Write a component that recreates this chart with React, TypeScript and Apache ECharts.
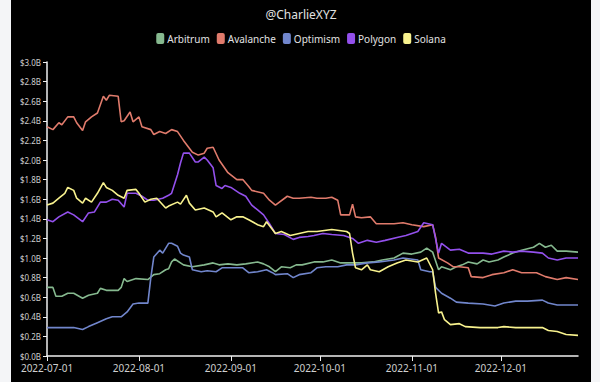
import React, { useEffect, useRef } from "react";
import * as echarts from "echarts";

const seriesNames = ["Arbitrum", "Avalanche", "Optimism", "Polygon", "Solana"];
const lineColors = ["#86b98f", "#e07b6c", "#7186cc", "#9350ec", "#f8f28e"];
const yTicksMax = 3.0;

const arbitrum: [string, number][] = [
  ["2022-07-01", 0.70], ["2022-07-03", 0.70], ["2022-07-04", 0.61], ["2022-07-06", 0.61],
  ["2022-07-08", 0.64], ["2022-07-10", 0.64], ["2022-07-13", 0.59], ["2022-07-15", 0.62],
  ["2022-07-18", 0.64], ["2022-07-19", 0.69], ["2022-07-21", 0.67], ["2022-07-25", 0.67],
  ["2022-07-26", 0.70], ["2022-07-27", 0.79], ["2022-07-28", 0.76], ["2022-07-31", 0.79],
  ["2022-08-04", 0.78], ["2022-08-06", 0.83], ["2022-08-08", 0.84], ["2022-08-10", 0.88],
  ["2022-08-11", 0.89], ["2022-08-12", 0.96], ["2022-08-13", 0.99], ["2022-08-16", 0.93],
  ["2022-08-19", 0.91], ["2022-08-23", 0.93], ["2022-08-26", 0.95], ["2022-08-28", 0.93],
  ["2022-08-31", 0.94], ["2022-09-03", 0.93], ["2022-09-06", 0.94], ["2022-09-10", 0.96],
  ["2022-09-12", 0.94], ["2022-09-14", 0.91], ["2022-09-16", 0.86], ["2022-09-18", 0.91],
  ["2022-09-21", 0.90], ["2022-09-23", 0.93], ["2022-09-25", 0.93], ["2022-09-29", 0.96],
  ["2022-10-02", 0.96], ["2022-10-05", 0.98], ["2022-10-08", 0.95], ["2022-10-11", 0.95],
  ["2022-10-15", 0.95], ["2022-10-19", 0.96], ["2022-10-22", 0.98], ["2022-10-26", 1.00],
  ["2022-10-29", 1.05], ["2022-11-01", 1.04], ["2022-11-04", 1.06], ["2022-11-06", 1.10],
  ["2022-11-08", 1.06], ["2022-11-10", 0.88], ["2022-11-11", 0.91], ["2022-11-14", 0.88],
  ["2022-11-16", 0.91], ["2022-11-18", 0.93], ["2022-11-20", 0.96], ["2022-11-23", 0.94],
  ["2022-11-25", 0.98], ["2022-11-27", 0.96], ["2022-11-30", 0.98], ["2022-12-02", 1.01],
  ["2022-12-05", 1.05], ["2022-12-08", 1.08], ["2022-12-12", 1.11], ["2022-12-14", 1.15],
  ["2022-12-16", 1.11], ["2022-12-18", 1.13], ["2022-12-20", 1.07], ["2022-12-23", 1.07],
  ["2022-12-27", 1.06],
];

const avalanche: [string, number][] = [
  ["2022-07-01", 2.34], ["2022-07-03", 2.31], ["2022-07-05", 2.38], ["2022-07-06", 2.36],
  ["2022-07-08", 2.44], ["2022-07-10", 2.44], ["2022-07-11", 2.38], ["2022-07-13", 2.30],
  ["2022-07-14", 2.39], ["2022-07-16", 2.44], ["2022-07-18", 2.48], ["2022-07-20", 2.65],
  ["2022-07-21", 2.61], ["2022-07-22", 2.66], ["2022-07-25", 2.65], ["2022-07-26", 2.39],
  ["2022-07-27", 2.40], ["2022-07-29", 2.49], ["2022-07-30", 2.39], ["2022-08-01", 2.44],
  ["2022-08-02", 2.34], ["2022-08-05", 2.31], ["2022-08-06", 2.26], ["2022-08-08", 2.29],
  ["2022-08-10", 2.27], ["2022-08-12", 2.31], ["2022-08-14", 2.29], ["2022-08-16", 2.20],
  ["2022-08-19", 2.08], ["2022-08-21", 2.05], ["2022-08-23", 2.07], ["2022-08-24", 2.12],
  ["2022-08-26", 2.13], ["2022-08-28", 2.00], ["2022-08-31", 1.87], ["2022-09-03", 1.80],
  ["2022-09-05", 1.80], ["2022-09-07", 1.73], ["2022-09-08", 1.69], ["2022-09-12", 1.66],
  ["2022-09-14", 1.59], ["2022-09-16", 1.54], ["2022-09-20", 1.63], ["2022-09-22", 1.61],
  ["2022-09-24", 1.61], ["2022-09-28", 1.62], ["2022-09-30", 1.61], ["2022-10-03", 1.61],
  ["2022-10-05", 1.62], ["2022-10-07", 1.59], ["2022-10-08", 1.44], ["2022-10-11", 1.44],
  ["2022-10-12", 1.55], ["2022-10-13", 1.42], ["2022-10-15", 1.41], ["2022-10-18", 1.42],
  ["2022-10-20", 1.35], ["2022-10-26", 1.35], ["2022-10-29", 1.36], ["2022-11-01", 1.34],
  ["2022-11-05", 1.32], ["2022-11-08", 1.34], ["2022-11-09", 1.21], ["2022-11-10", 1.00],
  ["2022-11-13", 0.95], ["2022-11-15", 0.91], ["2022-11-17", 0.91], ["2022-11-20", 0.90],
  ["2022-11-21", 0.81], ["2022-11-25", 0.80], ["2022-11-28", 0.83], ["2022-12-02", 0.85],
  ["2022-12-05", 0.88], ["2022-12-08", 0.85], ["2022-12-13", 0.85], ["2022-12-16", 0.81],
  ["2022-12-20", 0.78], ["2022-12-23", 0.80], ["2022-12-27", 0.78],
];

const optimism: [string, number][] = [
  ["2022-07-01", 0.29], ["2022-07-05", 0.29], ["2022-07-10", 0.29], ["2022-07-13", 0.27],
  ["2022-07-15", 0.30], ["2022-07-18", 0.34], ["2022-07-21", 0.38], ["2022-07-23", 0.40],
  ["2022-07-26", 0.40], ["2022-07-28", 0.45], ["2022-07-30", 0.53], ["2022-08-01", 0.54],
  ["2022-08-04", 0.54], ["2022-08-05", 0.80], ["2022-08-06", 1.01], ["2022-08-08", 1.08],
  ["2022-08-09", 1.05], ["2022-08-11", 1.15], ["2022-08-12", 1.15], ["2022-08-14", 1.12],
  ["2022-08-15", 1.05], ["2022-08-16", 1.03], ["2022-08-18", 1.01], ["2022-08-19", 0.88],
  ["2022-08-22", 0.86], ["2022-08-24", 0.87], ["2022-08-27", 0.86], ["2022-08-29", 0.90],
  ["2022-09-02", 0.90], ["2022-09-05", 0.90], ["2022-09-07", 0.85], ["2022-09-10", 0.86],
  ["2022-09-13", 0.88], ["2022-09-15", 0.85], ["2022-09-16", 0.83], ["2022-09-20", 0.84],
  ["2022-09-22", 0.80], ["2022-09-24", 0.83], ["2022-09-28", 0.85], ["2022-09-30", 0.90],
  ["2022-10-03", 0.91], ["2022-10-07", 0.91], ["2022-10-10", 0.93], ["2022-10-13", 0.93],
  ["2022-10-17", 0.95], ["2022-10-21", 0.96], ["2022-10-26", 0.98], ["2022-10-29", 1.00],
  ["2022-11-03", 0.98], ["2022-11-04", 0.88], ["2022-11-07", 0.86], ["2022-11-08", 0.86],
  ["2022-11-09", 0.70], ["2022-11-11", 0.64], ["2022-11-14", 0.59], ["2022-11-16", 0.55],
  ["2022-11-20", 0.54], ["2022-11-25", 0.53], ["2022-11-29", 0.51], ["2022-12-02", 0.54],
  ["2022-12-06", 0.56], ["2022-12-10", 0.56], ["2022-12-15", 0.57], ["2022-12-17", 0.54],
  ["2022-12-20", 0.52], ["2022-12-27", 0.52],
];

const polygon: [string, number][] = [
  ["2022-07-01", 1.39], ["2022-07-03", 1.37], ["2022-07-05", 1.42], ["2022-07-08", 1.47],
  ["2022-07-10", 1.44], ["2022-07-13", 1.37], ["2022-07-15", 1.46], ["2022-07-17", 1.47],
  ["2022-07-19", 1.57], ["2022-07-21", 1.57], ["2022-07-23", 1.60], ["2022-07-25", 1.59],
  ["2022-07-27", 1.52], ["2022-07-28", 1.66], ["2022-07-31", 1.66], ["2022-08-02", 1.63],
  ["2022-08-04", 1.59], ["2022-08-06", 1.59], ["2022-08-09", 1.61], ["2022-08-11", 1.64],
  ["2022-08-12", 1.66], ["2022-08-14", 1.85], ["2022-08-15", 1.97], ["2022-08-16", 2.07],
  ["2022-08-18", 2.07], ["2022-08-20", 1.98], ["2022-08-21", 1.98], ["2022-08-23", 2.03],
  ["2022-08-24", 2.00], ["2022-08-26", 1.92], ["2022-08-27", 1.74], ["2022-08-29", 1.71],
  ["2022-08-30", 1.74], ["2022-09-01", 1.72], ["2022-09-04", 1.66], ["2022-09-06", 1.63],
  ["2022-09-08", 1.54], ["2022-09-10", 1.49], ["2022-09-12", 1.44], ["2022-09-14", 1.35],
  ["2022-09-16", 1.25], ["2022-09-19", 1.24], ["2022-09-22", 1.19], ["2022-09-24", 1.21],
  ["2022-09-27", 1.22], ["2022-09-29", 1.23], ["2022-10-02", 1.25], ["2022-10-05", 1.24],
  ["2022-10-09", 1.23], ["2022-10-12", 1.20], ["2022-10-14", 1.15], ["2022-10-17", 1.18],
  ["2022-10-20", 1.16], ["2022-10-23", 1.18], ["2022-10-27", 1.21], ["2022-10-30", 1.23],
  ["2022-11-03", 1.27], ["2022-11-05", 1.36], ["2022-11-08", 1.34], ["2022-11-10", 1.05],
  ["2022-11-11", 1.15], ["2022-11-14", 1.08], ["2022-11-17", 1.09], ["2022-11-20", 1.05],
  ["2022-11-25", 1.05], ["2022-11-28", 1.04], ["2022-12-02", 1.07], ["2022-12-05", 1.06],
  ["2022-12-08", 1.07], ["2022-12-12", 1.06], ["2022-12-15", 1.05], ["2022-12-17", 1.00],
  ["2022-12-20", 0.98], ["2022-12-23", 1.00], ["2022-12-27", 1.00],
];

const solana: [string, number][] = [
  ["2022-07-01", 1.54], ["2022-07-03", 1.56], ["2022-07-05", 1.61], ["2022-07-07", 1.66],
  ["2022-07-08", 1.72], ["2022-07-10", 1.69], ["2022-07-11", 1.61], ["2022-07-13", 1.56],
  ["2022-07-14", 1.61], ["2022-07-16", 1.57], ["2022-07-18", 1.66], ["2022-07-20", 1.77],
  ["2022-07-21", 1.72], ["2022-07-23", 1.69], ["2022-07-25", 1.64], ["2022-07-27", 1.61],
  ["2022-07-28", 1.69], ["2022-07-31", 1.70], ["2022-08-01", 1.66], ["2022-08-03", 1.57],
  ["2022-08-05", 1.60], ["2022-08-07", 1.61], ["2022-08-10", 1.51], ["2022-08-11", 1.53],
  ["2022-08-14", 1.57], ["2022-08-15", 1.55], ["2022-08-17", 1.64], ["2022-08-18", 1.56],
  ["2022-08-20", 1.49], ["2022-08-23", 1.51], ["2022-08-26", 1.47], ["2022-08-27", 1.42],
  ["2022-08-29", 1.46], ["2022-09-01", 1.39], ["2022-09-03", 1.42], ["2022-09-05", 1.42],
  ["2022-09-07", 1.39], ["2022-09-10", 1.34], ["2022-09-12", 1.32], ["2022-09-13", 1.37],
  ["2022-09-15", 1.29], ["2022-09-16", 1.25], ["2022-09-18", 1.27], ["2022-09-21", 1.23],
  ["2022-09-24", 1.25], ["2022-09-27", 1.27], ["2022-09-30", 1.27], ["2022-10-05", 1.29],
  ["2022-10-10", 1.27], ["2022-10-11", 1.25], ["2022-10-12", 1.05], ["2022-10-13", 0.90],
  ["2022-10-15", 0.88], ["2022-10-17", 0.93], ["2022-10-18", 0.88], ["2022-10-21", 0.86],
  ["2022-10-24", 0.91], ["2022-10-27", 0.95], ["2022-10-30", 0.98], ["2022-11-03", 0.96],
  ["2022-11-06", 1.00], ["2022-11-08", 0.88], ["2022-11-09", 0.64], ["2022-11-10", 0.44],
  ["2022-11-11", 0.45], ["2022-11-12", 0.37], ["2022-11-14", 0.32], ["2022-11-17", 0.33],
  ["2022-11-19", 0.30], ["2022-11-24", 0.29], ["2022-11-30", 0.29], ["2022-12-02", 0.30],
  ["2022-12-06", 0.29], ["2022-12-10", 0.29], ["2022-12-15", 0.29], ["2022-12-17", 0.26],
  ["2022-12-20", 0.25], ["2022-12-23", 0.22], ["2022-12-27", 0.21],
];

const seriesData = [arbitrum, avalanche, optimism, polygon, solana];

const pad = (n: number) => (n < 10 ? "0" + n : "" + n);

export default function App() {
  const ref = useRef<HTMLDivElement>(null);
  useEffect(() => {
    if (!ref.current) return;
    const chart = echarts.init(ref.current, null, { renderer: "svg" });
    const font = "'Noto Sans', sans-serif";
    chart.setOption({
      animation: false,
      backgroundColor: "#000000",
      color: lineColors,
      title: {
        text: "@CharlieXYZ",
        left: "center",
        top: 3,
        textStyle: { color: "#e2e2e2", fontSize: 12, fontWeight: "normal", fontFamily: font },
      },
      legend: {
        top: 28,
        left: "center",
        icon: "roundRect",
        itemWidth: 8,
        itemHeight: 11,
        itemGap: 7,
        data: seriesNames,
        textStyle: { color: "#e2e2e2", fontSize: 10, fontFamily: font, padding: [0, 0, 0, -2] },
      },
      grid: { left: 36, right: 13, top: 62, bottom: 26, containLabel: false },
      xAxis: {
        type: "time",
        min: "2022-07-01",
        max: "2022-12-27",
        splitNumber: 6,
        axisLine: { lineStyle: { color: "#f0f0f0", width: 1.5 } },
        axisTick: { show: true, length: 5, lineStyle: { color: "#f0f0f0" } },
        splitLine: { show: false },
        axisLabel: {
          color: "#cfcfcf",
          fontSize: 10,
          fontFamily: font,
          margin: 7,
          hideOverlap: false,
          formatter: (v: number) => {
            const d = new Date(v);
            return d.getFullYear() + "-" + pad(d.getMonth() + 1) + "-" + pad(d.getDate());
          },
        },
      },
      yAxis: {
        type: "value",
        min: 0,
        max: yTicksMax,
        interval: 0.2,
        axisLine: { show: true, lineStyle: { color: "#f0f0f0", width: 1.5 } },
        axisTick: { show: true, length: 4, lineStyle: { color: "#f0f0f0" } },
        splitLine: { show: false },
        axisLabel: {
          color: "#cfcfcf",
          fontSize: 8,
          fontFamily: font,
          margin: 6,
          formatter: (v: number) => "$" + v.toFixed(1) + "B",
        },
      },
      series: seriesNames.map((name, i) => ({
        name,
        type: "line",
        data: seriesData[i],
        showSymbol: false,
        symbol: "none",
        lineStyle: { width: 1.6, color: lineColors[i] },
        itemStyle: { color: lineColors[i] },
      })),
    });
    return () => chart.dispose();
  }, []);
  return (
    <div style={{ position: "fixed", left: 0, top: 0, width: 600, height: 382, background: "#f4f5f7" }}>
      <div ref={ref} style={{ position: "absolute", left: 11, top: 0, width: 580, height: 382 }} />
    </div>
  );
}
